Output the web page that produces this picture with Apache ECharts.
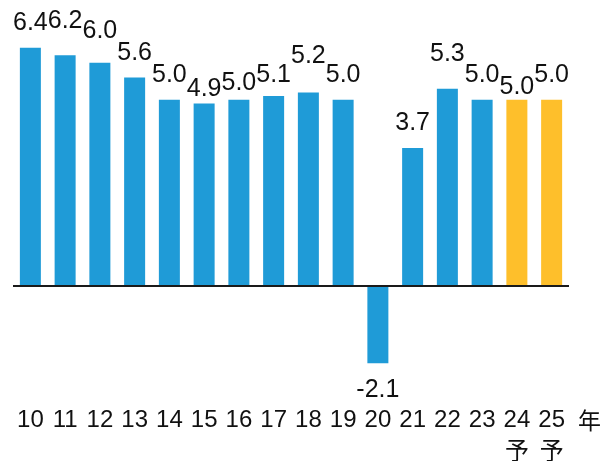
<!DOCTYPE html>
<html>
<head>
<meta charset="utf-8">
<script src="https://cdn.jsdelivr.net/npm/echarts@6/dist/echarts.min.js"></script>
<style>
  html, body { margin: 0; padding: 0; background: #fff; }
  #chart { width: 606px; height: 461px; }
</style>
</head>
<body>
<div id="chart"></div>
<script>
// ---- data ----
const years = ['10','11','12','13','14','15','16','17','18','19','20','21','22','23','24','25'];
const growth = [6.4, 6.2, 6.0, 5.6, 5.0, 4.9, 5.0, 5.1, 5.2, 5.0, -2.1, 3.7, 5.3, 5.0, 5.0, 5.0];
const forecast = [false,false,false,false,false,false,false,false,false,false,false,false,false,false,true,true];
const forecastMark = '予';
const unitLabel = '年';

// ---- styling ----
const FONT = '"Liberation Sans", Arial, "Noto Sans CJK JP", sans-serif';
const BLUE = '#1f9bd7';
const YELLOW = '#febf2b';
// vertical nudges of individual value labels (px), as in the reference layout
const labelNudge = [0, -10, -7, 0, 0, 10, 8, 4, -12, 0, 0, 0, -10, 0, 12, 0];

const chart = echarts.init(document.getElementById('chart'), null, { renderer: 'canvas' });

const seriesData = growth.map((v, i) => ({
  value: v,
  itemStyle: { color: forecast[i] ? YELLOW : BLUE },
  label: {
    position: v < 0 ? 'bottom' : 'top',
    distance: v < 0 ? 14 : 12,
    offset: [0, labelNudge[i]]
  }
}));

chart.setOption({
  animation: false,
  grid: {
    left: 13, right: 37, top: 25.6, bottom: 64.4,
    containLabel: false,
    outerBoundsMode: 'none'
  },
  xAxis: {
    type: 'category',
    data: years,
    axisLine: { show: false, onZero: false },
    axisTick: { show: false },
    axisLabel: {
      interval: 0,
      margin: 8,
      color: '#111',
      fontSize: 24,
      lineHeight: 32,
      fontFamily: FONT,
      formatter: (val, idx) => forecast[idx] ? val + '\n' + forecastMark : val
    },
    name: unitLabel,
    nameLocation: 'end',
    nameGap: 9,
    nameTextStyle: {
      color: '#111',
      fontSize: 23,
      fontFamily: FONT,
      verticalAlign: 'top',
      lineHeight: 32,
      padding: [10, 0, 0, 0]
    }
  },
  yAxis: {
    type: 'value',
    min: -3,
    max: 7,
    show: false,
    splitLine: { show: false }
  },
  series: [{
    type: 'bar',
    data: seriesData,
    barWidth: 21,
    label: {
      show: true,
      color: '#111',
      fontSize: 25,
      fontFamily: FONT,
      formatter: p => p.value.toFixed(1)
    },
    markLine: {
      silent: true,
      symbol: ['none', 'none'],
      label: { show: false },
      lineStyle: { color: '#1a1a1a', width: 2, type: 'solid' },
      data: [{ yAxis: 0 }]
    }
  }]
});
</script>
</body>
</html>
